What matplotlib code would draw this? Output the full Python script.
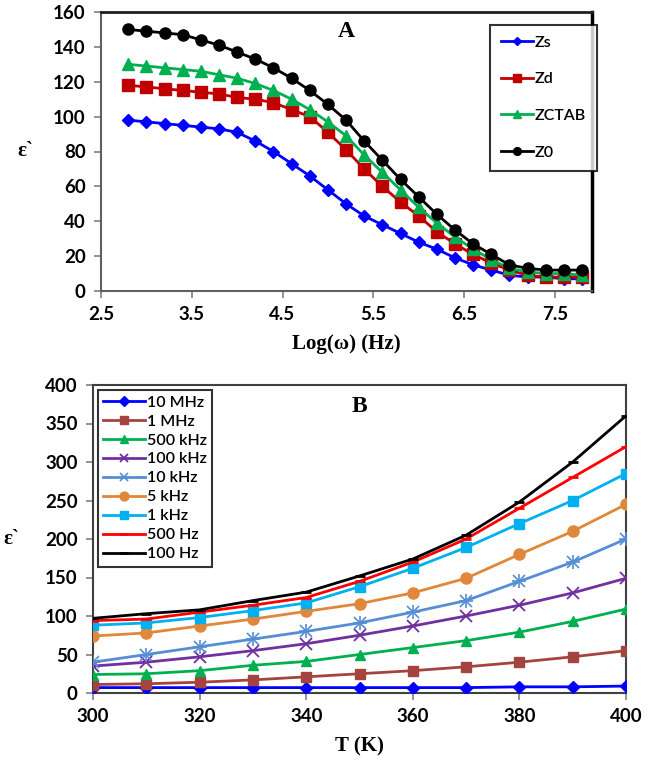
import matplotlib
matplotlib.use("Agg")
import matplotlib.pyplot as plt

# ---- Panel A data ----
log_w = [2.8, 3.0, 3.2, 3.4, 3.6, 3.8, 4.0, 4.2, 4.4, 4.6, 4.8, 5.0, 5.2,
         5.4, 5.6, 5.8, 6.0, 6.2, 6.4, 6.6, 6.8, 7.0, 7.2, 7.4, 7.6, 7.8]
zs = [98, 97, 96, 95, 94, 93, 91, 86, 80, 73, 66, 58, 50, 43, 38, 33, 28, 24, 19, 15, 12, 9, 8, 8, 7, 7]
zd = [118, 117, 116, 115, 114, 113, 111, 110, 108, 104, 100, 91, 81, 70, 60, 51, 43, 34, 27, 21, 16, 12, 9, 8, 8, 8]
zctab = [130, 129, 128, 127, 126, 124, 122, 119, 115, 110, 104, 97, 89, 78, 68, 58, 48, 39, 31, 24, 18, 13, 11, 10, 10, 9]
z0 = [150, 149, 148, 147, 144, 141, 137, 133, 128, 122, 115, 107, 98, 86, 75, 64, 54, 44, 35, 27, 21, 15, 13, 12, 12, 12]
labels_a = ["Zs", "Zd", "ZCTAB", "Z0"]
xticks_a = [2.5, 3.5, 4.5, 5.5, 6.5, 7.5]
yticks_a = [0, 20, 40, 60, 80, 100, 120, 140, 160]

# ---- Panel B data ----
temps = [300, 310, 320, 330, 340, 350, 360, 370, 380, 390, 400]
f10MHz = [7, 7, 7, 7, 7, 7, 7, 7, 8, 8, 9]
f1MHz = [11, 12, 14, 17, 21, 25, 29, 34, 40, 47, 55]
f500kHz = [24, 25, 29, 36, 41, 50, 59, 68, 79, 93, 109]
f100kHz = [35, 40, 47, 55, 64, 75, 87, 100, 114, 130, 149]
f10kHz = [40, 50, 60, 70, 80, 91, 105, 120, 145, 170, 200]
f5kHz = [74, 78, 87, 96, 106, 116, 130, 149, 180, 210, 245]
f1kHz = [88, 91, 98, 107, 117, 138, 162, 189, 220, 250, 285]
f500Hz = [94, 96, 105, 114, 124, 145, 170, 200, 240, 280, 320]
f100Hz = [97, 103, 108, 120, 131, 152, 174, 205, 248, 300, 360]
labels_b = ["10 MHz", "1 MHz", "500 kHz", "100 kHz", "10 kHz", "5 kHz", "1 kHz", "500 Hz", "100 Hz"]
xticks_b = [300, 320, 340, 360, 380, 400]
yticks_b = [0, 50, 100, 150, 200, 250, 300, 350, 400]

tick_font = dict(family="Lato", weight="bold", size=13.5)
label_font = dict(family="Liberation Serif", weight="bold", size=15)
legend_font = dict(family="Lato", weight="semibold", size=11.5)

fig = plt.figure(figsize=(6.51, 7.65), dpi=100)

# ---------------- Panel A ----------------
axA = fig.add_axes([101/651, 1-291/765, (592-101)/651, (291-12)/765])
styles_a = [
    dict(color="#0000FF", marker="D", ms=6.5),
    dict(color="#C00000", marker="s", ms=8),
    dict(color="#00B050", marker="^", ms=8),
    dict(color="#000000", marker="o", ms=8),
]
for ys, lab, st in zip([zs, zd, zctab, z0], labels_a, styles_a):
    axA.plot(log_w, ys, color=st["color"], marker=st["marker"], ms=st["ms"],
             lw=2, label=lab, zorder=3)
axA.set_xlim(2.5, 7.91)
axA.set_ylim(0, 160)
axA.set_xticks(xticks_a)
axA.set_yticks(yticks_a)
axA.set_xticklabels([f"{v}" for v in xticks_a], fontdict=tick_font)
axA.set_yticklabels([f"{v}" for v in yticks_a], fontdict=tick_font)
axA.tick_params(direction="out", length=5, color="#808080", width=1.2, pad=6)
for s in ["left", "bottom"]:
    axA.spines[s].set_color("#606060")
    axA.spines[s].set_linewidth(1.5)
axA.spines["top"].set_color("#202020")
axA.spines["top"].set_linewidth(2)
axA.spines["right"].set_color("#000000")
axA.spines["right"].set_linewidth(2.5)
axA.set_xlabel("Log(ω) (Hz)", fontdict=label_font, labelpad=8)
axA.set_ylabel("ε`", fontdict=label_font, rotation=0, labelpad=20, va="center")
axA.text(0.5, 0.93, "A", transform=axA.transAxes, ha="center", va="center",
         fontdict=dict(family="Liberation Serif", weight="bold", size=17))
legA = axA.legend(loc="upper right", bbox_to_anchor=(1.01, 0.955), frameon=True,
                  fancybox=False, edgecolor="black", prop=legend_font,
                  labelspacing=1.4, handlelength=2.0, handletextpad=0.1,
                  markerscale=0.7, borderpad=0.7, borderaxespad=0.0)
legA.get_frame().set_linewidth(1.5)

# ---------------- Panel B ----------------
axB = fig.add_axes([93/651, 1-693/765, (626-93)/651, (693-385)/765])
series_b = [f10MHz, f1MHz, f500kHz, f100kHz, f10kHz, f5kHz, f1kHz, f500Hz, f100Hz]
styles_b = [
    dict(color="#0000FF", marker="D", ms=6, mew=1),
    dict(color="#A5443F", marker="s", ms=7.5, mew=1),
    dict(color="#00B050", marker="^", ms=7.5, mew=1),
    dict(color="#7030A0", marker="x", ms=8, mew=1.3),
    dict(color="#558ED5", marker="x", ms=8, mew=1.2),
    dict(color="#E0873A", marker="o", ms=8, mew=1),
    dict(color="#00B0F0", marker="s", ms=7, mew=1),
    dict(color="#FF0000", marker="_", ms=7, mew=2),
    dict(color="#000000", marker="_", ms=7, mew=2),
]
for ys, lab, st in zip(series_b, labels_b, styles_b):
    axB.plot(temps, ys, color=st["color"], marker=st["marker"], ms=st["ms"],
             mew=st["mew"], lw=2, label=lab, zorder=3)
    if lab == "10 kHz":
        axB.plot(temps, ys, color=st["color"], lw=0, marker="+", ms=10, mew=1.2, zorder=3)
axB.set_xlim(300, 400)
axB.set_ylim(0, 400)
axB.set_xticks(xticks_b)
axB.set_yticks(yticks_b)
axB.set_xticklabels([f"{v}" for v in xticks_b], fontdict=tick_font)
axB.set_yticklabels([f"{v}" for v in yticks_b], fontdict=tick_font)
axB.tick_params(direction="out", length=5, color="#808080", width=1.2, pad=6)
for s in ["left", "bottom", "top", "right"]:
    axB.spines[s].set_color("#404040")
    axB.spines[s].set_linewidth(1.5)
axB.set_xlabel("T (K)", fontdict=label_font, labelpad=8)
axB.set_ylabel("ε`", fontdict=label_font, rotation=0, labelpad=24, va="center")
axB.text(0.5, 0.93, "B", transform=axB.transAxes, ha="center", va="center",
         fontdict=dict(family="Liberation Serif", weight="bold", size=17))
handles, labs = axB.get_legend_handles_labels()
legB = axB.legend(handles, labs, loc="upper left", frameon=True, fancybox=False,
                  edgecolor="black", prop=legend_font,
                  labelspacing=0.3, handlelength=2.6, handletextpad=0.1,
                  markerscale=0.8, borderpad=0.35, borderaxespad=0.3)
legB.get_frame().set_linewidth(1.5)

fig.savefig("out.png", dpi=100)
